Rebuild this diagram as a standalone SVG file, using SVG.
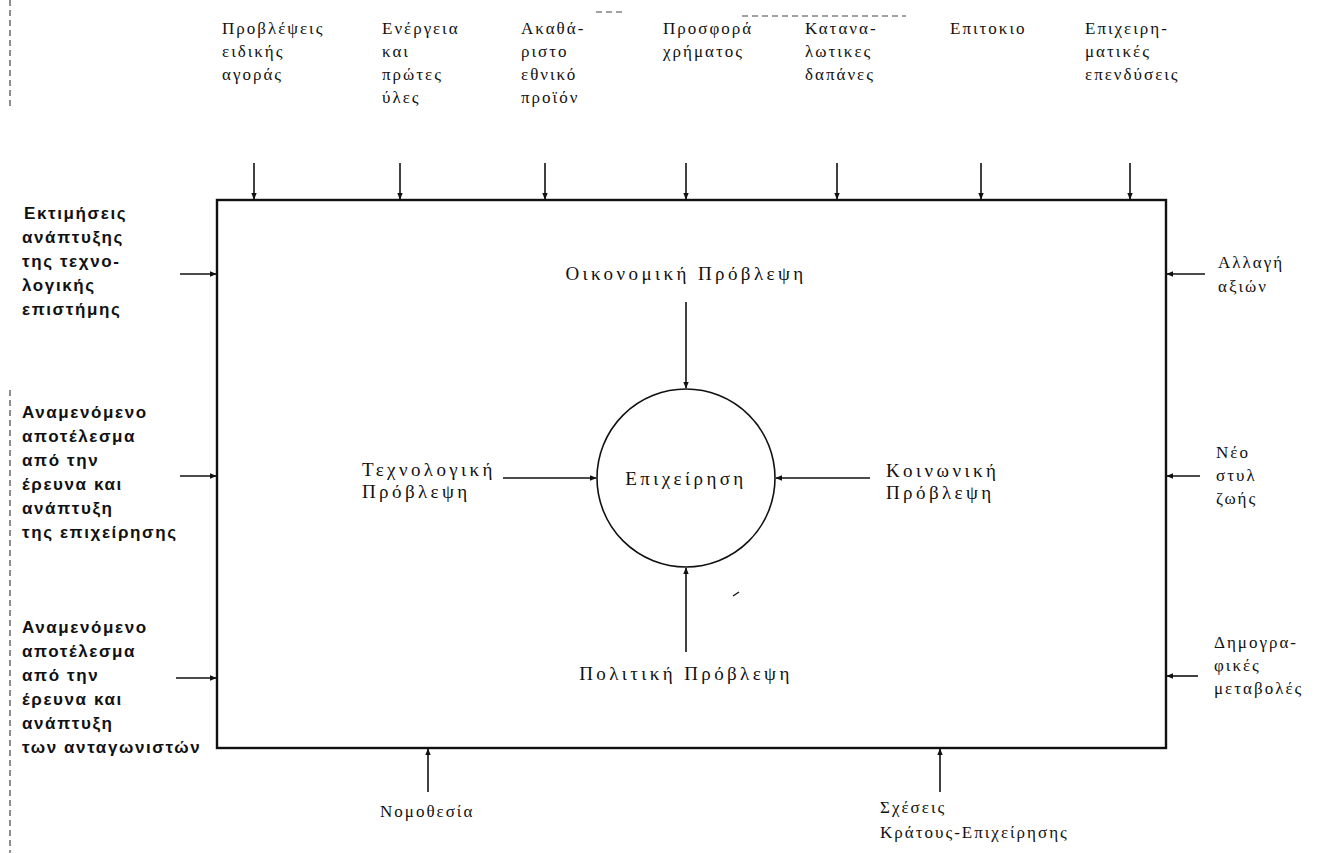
<svg xmlns="http://www.w3.org/2000/svg" width="1319" height="853" viewBox="0 0 1319 853">
<style>
.s{font-family:"Liberation Serif","DejaVu Serif",serif;font-size:17px;letter-spacing:2px;fill:#111}
.c{font-family:"Liberation Serif","DejaVu Serif",serif;font-size:19px;letter-spacing:3.4px;fill:#111}
.b{font-family:"Liberation Sans","DejaVu Sans",sans-serif;font-size:17px;font-weight:bold;letter-spacing:1.6px;fill:#111}
.ln{stroke:#111;stroke-width:1.6;fill:none}
.box{stroke:#111;stroke-width:2.4;fill:none}
.art{stroke:#444;stroke-width:1.2;fill:none;stroke-dasharray:6 4}
</style>
<defs>
<marker id="ah" viewBox="0 0 10 10" refX="9" refY="5" markerWidth="7" markerHeight="7" orient="auto" markerUnits="userSpaceOnUse">
<path d="M0,1 L10,5 L0,9 z" fill="#111"/>
</marker>
</defs>
<rect width="1319" height="853" fill="#fff"/>

<g id="artifacts">
<line class="art" x1="596" y1="12" x2="624" y2="12"/>
<line class="art" x1="742" y1="16" x2="906" y2="16" stroke-dasharray="10 2"/>
<line class="art" x1="10" y1="0" x2="10" y2="110"/>
<line class="art" x1="10" y1="390" x2="10" y2="853" stroke-dasharray="3 2"/>
<path d="M733,596 l6,-4" stroke="#111" stroke-width="1.4"/>
</g>

<g id="business-environment">
<rect class="box" x="217" y="200" width="949" height="548"/>
</g>

<g id="company">
<circle class="ln" cx="686" cy="478" r="89" stroke-width="2.4"/>
<text class="c" x="686" y="485" text-anchor="middle">Επιχείρηση</text>
</g>

<g id="economic-forecast"><text class="c" x="686" y="280" text-anchor="middle">Οικονομική Πρόβλεψη</text></g>
<g id="technological-forecast"><text class="c" x="362" y="476">Τεχνολογική</text><text class="c" x="362" y="498">Πρόβλεψη</text></g>
<g id="social-forecast"><text class="c" x="886" y="477">Κοινωνική</text><text class="c" x="886" y="499">Πρόβλεψη</text></g>
<g id="political-forecast"><text class="c" x="686" y="680" text-anchor="middle">Πολιτική Πρόβλεψη</text></g>

<g id="t1"><text class="s" x="222" y="34">Προβλέψεις</text><text class="s" x="222" y="57">ειδικής</text><text class="s" x="222" y="80">αγοράς</text></g>
<g id="t2"><text class="s" x="382" y="34">Ενέργεια</text><text class="s" x="382" y="57">και</text><text class="s" x="382" y="80">πρώτες</text><text class="s" x="382" y="103">ύλες</text></g>
<g id="t3"><text class="s" x="521" y="34">Ακαθά-</text><text class="s" x="521" y="57">ριστο</text><text class="s" x="521" y="80">εθνικό</text><text class="s" x="521" y="103">προϊόν</text></g>
<g id="t4"><text class="s" x="663" y="34">Προσφορά</text><text class="s" x="663" y="57">χρήματος</text></g>
<g id="t5"><text class="s" x="805" y="34">Κατανα-</text><text class="s" x="805" y="57">λωτικες</text><text class="s" x="805" y="80">δαπάνες</text></g>
<g id="t6"><text class="s" x="950" y="34">Επιτοκιο</text></g>
<g id="t7"><text class="s" x="1085" y="34">Επιχειρη-</text><text class="s" x="1085" y="57">ματικές</text><text class="s" x="1085" y="80">επενδύσεις</text></g>

<g id="l1"><text class="b" x="24" y="219">Εκτιμήσεις</text><text class="b" x="22" y="243">ανάπτυξης</text><text class="b" x="22" y="267">της τεχνο-</text><text class="b" x="22" y="291">λογικής</text><text class="b" x="22" y="315">επιστήμης</text></g>
<g id="l2"><text class="b" x="22" y="418">Αναμενόμενο</text><text class="b" x="22" y="442">αποτέλεσμα</text><text class="b" x="22" y="466">από την</text><text class="b" x="22" y="490">έρευνα και</text><text class="b" x="22" y="514">ανάπτυξη</text><text class="b" x="22" y="538">της επιχείρησης</text></g>
<g id="l3"><text class="b" x="22" y="633">Αναμενόμενο</text><text class="b" x="22" y="657">αποτέλεσμα</text><text class="b" x="22" y="681">από την</text><text class="b" x="22" y="705">έρευνα και</text><text class="b" x="22" y="729">ανάπτυξη</text><text class="b" x="22" y="753">των ανταγωνιστών</text></g>

<g id="r1"><text class="s" x="1218" y="268">Αλλαγή</text><text class="s" x="1218" y="292">αξιών</text></g>
<g id="r2"><text class="s" x="1216" y="458">Νέο</text><text class="s" x="1216" y="481">στυλ</text><text class="s" x="1216" y="504">ζωής</text></g>
<g id="r3"><text class="s" x="1214" y="648">Δημογρα-</text><text class="s" x="1214" y="671">φικές</text><text class="s" x="1214" y="694">μεταβολές</text></g>

<g id="b1"><text class="s" x="380" y="817">Νομοθεσία</text></g>
<g id="b2"><text class="s" x="880" y="813">Σχέσεις</text><text class="s" x="880" y="838">Κράτους-Επιχείρησης</text></g>

<g id="connectors" class="ln" marker-end="url(#ah)">
<line x1="254" y1="163" x2="254" y2="199"/>
<line x1="400" y1="163" x2="400" y2="199"/>
<line x1="545" y1="163" x2="545" y2="199"/>
<line x1="686" y1="163" x2="686" y2="199"/>
<line x1="837" y1="163" x2="837" y2="199"/>
<line x1="981" y1="163" x2="981" y2="199"/>
<line x1="1130" y1="163" x2="1130" y2="199"/>
<line x1="180" y1="274" x2="216" y2="274"/>
<line x1="180" y1="476" x2="216" y2="476"/>
<line x1="176" y1="678" x2="216" y2="678"/>
<line x1="1205" y1="274" x2="1167" y2="274"/>
<line x1="1200" y1="476" x2="1167" y2="476"/>
<line x1="1198" y1="676" x2="1167" y2="676"/>
<line x1="428" y1="792" x2="428" y2="749"/>
<line x1="940" y1="792" x2="940" y2="749"/>
<line x1="686" y1="302" x2="686" y2="388"/>
<line x1="503" y1="478" x2="596" y2="478"/>
<line x1="870" y1="478" x2="776" y2="478"/>
<line x1="686" y1="652" x2="686" y2="568"/>
</g>
</svg>
